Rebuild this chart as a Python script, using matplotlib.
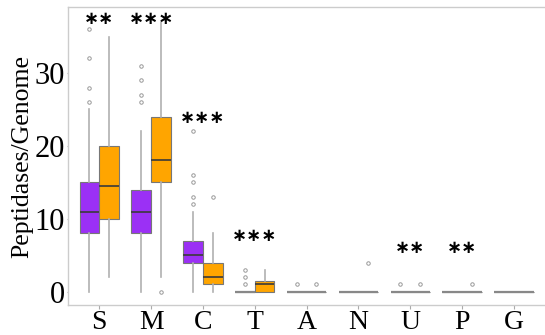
import matplotlib
matplotlib.use("Agg")
import matplotlib.pyplot as plt
import numpy as np

categories = ["S", "M", "C", "T", "A", "N", "U", "P", "G"]

# group 1 (purple)
p_q1 = [8, 8, 4, 0, 0, 0, 0, 0, 0]
p_med = [11, 11, 5, 0, 0, 0, 0, 0, 0]
p_q3 = [15, 14, 7, 0, 0, 0, 0, 0, 0]
p_lo = [0, 0, 0, 0, 0, 0, 0, 0, 0]
p_hi = [25, 22, 11, 0, 0, 0, 0, 0, 0]
p_out = [[26, 28, 32, 36], [26, 27, 29, 31], [12, 13, 15, 16, 22], [1, 2, 3],
         [1], [], [1], [], []]

# group 2 (orange)
o_q1 = [10, 15, 1, 0, 0, 0, 0, 0, 0]
o_med = [14.5, 18, 2, 1, 0, 0, 0, 0, 0]
o_q3 = [20, 24, 4, 1.5, 0, 0, 0, 0, 0]
o_lo = [2, 2, 0, 0, 0, 0, 0, 0, 0]
o_hi = [35, 37, 8, 3, 0, 0, 0, 0, 0]
o_out = [[], [0], [13], [], [1], [4], [1], [1], []]

sig_labels = ["**", "***", "***", "***", "", "", "**", "**", ""]
sig_y = [37.4, 37.4, 23.8, 7.6, 0, 0, 6.0, 6.0, 0]

PURPLE = "#9b30f5"
ORANGE = "#ffa500"


def make_stats(q1, med, q3, lo, hi, out):
    return [dict(q1=a, med=b, q3=c, whislo=d, whishi=e, fliers=f)
            for a, b, c, d, e, f in zip(q1, med, q3, lo, hi, out)]


fig = plt.figure(figsize=(5.45, 3.35), dpi=100)
ax = fig.add_axes([0.125, 0.09, 0.88, 0.888])

x = np.arange(len(categories))
w = 0.38
common = dict(widths=w, patch_artist=True, showcaps=False,
              whiskerprops=dict(color="#b0b0b0", linewidth=1.2),
              medianprops=dict(color="#3a3a3a", linewidth=1.2),
              flierprops=dict(marker="o", markersize=2.5, markerfacecolor="none",
                              markeredgecolor="#999999", markeredgewidth=0.7))

for stats, offs, col in [(make_stats(p_q1, p_med, p_q3, p_lo, p_hi, p_out), -w / 2, PURPLE),
                         (make_stats(o_q1, o_med, o_q3, o_lo, o_hi, o_out), w / 2, ORANGE)]:
    res = ax.bxp(stats, positions=x + offs,
                 boxprops=dict(facecolor=col, edgecolor="#777777", linewidth=0.8),
                 **common)
    for st, med_line in zip(stats, res["medians"]):
        if st["q1"] == st["q3"]:
            med_line.set_color("#888888")
            med_line.set_linewidth(1.6)

for xi, lab, yv in zip(x, sig_labels, sig_y):
    if lab:
        ax.text(xi, yv, lab.replace("*", "\u2217"), ha="center", va="center",
                fontsize=13, fontweight="bold", family="DejaVu Sans", color="black")

ax.set_xlim(-0.6, 8.65)
ax.set_ylim(-1.8, 39.0)
ax.set_xticks(x)
ax.set_xticklabels(categories)
ax.set_yticks([0, 10, 20, 30])
for lab in ax.get_yticklabels():
    lab.set_fontfamily("Liberation Serif")
    lab.set_fontsize(22)
for lab in ax.get_xticklabels():
    lab.set_fontfamily("Liberation Serif")
    lab.set_fontsize(20)
ax.set_ylabel("Peptidases/Genome", family="Liberation Serif", fontsize=18.5, labelpad=1)
ax.tick_params(colors="#aaaaaa", length=3, width=0.8, labelcolor="black", pad=0.5)
ax.tick_params(axis="y", length=1, pad=1.5)
for side in ["left", "bottom", "top"]:
    ax.spines[side].set_color("#cccccc")
    ax.spines[side].set_linewidth(1.0)
ax.spines["right"].set_visible(False)

fig.savefig("out.png", dpi=100, facecolor="white")
